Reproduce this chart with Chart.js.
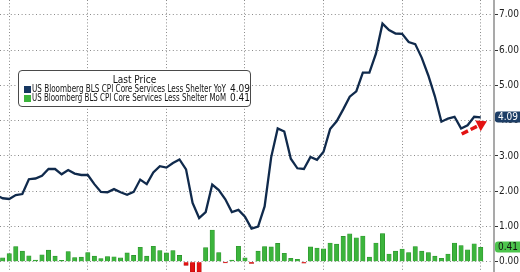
<!DOCTYPE html>
<html>
<head>
<meta charset="utf-8">
<script src="https://cdn.jsdelivr.net/npm/chart.js@4.4.1/dist/chart.umd.min.js"></script>
<style>
  body { margin: 0; background: #fff; }
  #wrap { position: relative; width: 520px; height: 272px; }
  #legend {
    position: absolute; left: 18px; top: 70px; width: 231px; height: 35px;
    border: 1px solid #4a4a4a; border-radius: 4px; background: #fff;
    font-family: 'DejaVu Sans Condensed', 'DejaVu Sans', sans-serif; font-size: 10px; color: #111;
  }
  #legend .title { position: absolute; top: 3px; left: 0; width: 100%; text-align: center; line-height: 11px; }
  #legend .row { position: absolute; left: 0; width: 100%; height: 10px; line-height: 10px; }
  #legend .sw { position: absolute; left: 5px; top: 2px; width: 7px; height: 7px; }
  #legend .name { position: absolute; left: 13px; top: 0; white-space: nowrap; transform-origin: left center; }
  #legend .val { position: absolute; left: 211px; top: 0; white-space: nowrap; }
</style>
</head>
<body>
<div id="wrap">
  <canvas id="c" width="520" height="272"></canvas>
  <div id="legend">
    <div class="title">Last Price</div>
    <div class="row" style="top:12.5px"><span class="sw" style="background:#163761"></span><span class="name">US Bloomberg BLS CPI Core Services Less Shelter YoY</span><span class="val">4.09</span></div>
    <div class="row" style="top:22px"><span class="sw" style="background:#3cb43c"></span><span class="name">US Bloomberg BLS CPI Core Services Less Shelter MoM</span><span class="val">0.41</span></div>
  </div>
</div>
<script>
// monthly series, first entry is the partial month cut at the left edge
const yoy = [1.88, 1.80, 1.78, 1.89, 1.92, 2.34, 2.36, 2.44, 2.63, 2.63, 2.48, 2.60, 2.50, 2.46,
  2.46, 2.20, 1.98, 1.97, 2.06, 1.97, 1.90, 1.98, 2.33, 2.20, 2.53, 2.71, 2.67, 2.80,
  2.90, 2.62, 1.67, 1.24, 1.41, 2.19, 2.03, 1.77, 1.41, 1.47, 1.28, 0.94, 1.00, 1.57,
  2.96, 3.78, 3.69, 2.92, 2.65, 2.63, 2.97, 2.89, 3.12, 3.76, 3.98, 4.32, 4.68, 4.83,
  5.36, 5.36, 5.90, 6.75, 6.57, 6.47, 6.46, 6.23, 6.17, 5.78, 5.28, 4.69, 3.97, 4.06,
  4.11, 3.78, 3.87, 4.11, 4.09];
const mom = [null, 0.11, 0.23, 0.43, 0.30, 0.17, 0.05, 0.20, 0.33, 0.16, 0.04, 0.29, 0.12, 0.13,
  0.26, 0.16, 0.09, 0.15, 0.14, 0.11, 0.25, 0.18, 0.41, 0.16, 0.44, 0.32, 0.25, 0.32,
  0.18, -0.10, -0.29, -0.29, 0.40, 0.90, 0.26, -0.03, 0.05, 0.44, 0.11, -0.05, 0.30, 0.43,
  0.42, 0.52, 0.24, 0.10, 0.07, -0.04, 0.42, 0.39, 0.37, 0.53, 0.50, 0.72, 0.79, 0.68,
  0.73, 0.13, 0.53, 0.80, 0.22, 0.30, 0.36, 0.26, 0.43, 0.30, 0.26, 0.16, 0.10, 0.22,
  0.53, 0.46, 0.34, 0.51, 0.41];
const yTicks = [0, 1, 2, 3, 4, 5, 6, 7];
const yearGrid = [1, 13, 25, 37, 49, 61, 73]; // january of each year
const lastYoY = 4.09;
const lastMoM = 0.41;

const NAVY = '#102a4c';
const GREEN = '#3cb43c';
const RED = '#e31212';

// shrink legend text to the width it has in the picture
document.querySelectorAll('#legend .name').forEach(el => {
  const w = el.getBoundingClientRect().width;
  el.style.transform = `scaleX(${194 / w})`;
});

const tagsAndArrow = {
  id: 'tagsAndArrow',
  afterDraw(chart) {
    const ctx = chart.ctx;
    const xs = chart.scales.x;
    const ys = chart.scales.y;
    const left = chart.chartArea.right + 1;

    function tag(value, bg, fg) {
      const y = Math.round(ys.getPixelForValue(value));
      ctx.save();
      ctx.fillStyle = bg;
      ctx.beginPath();
      ctx.roundRect(left, y - 5.5, 520 - left + 3, 11, 3);
      ctx.fill();
      ctx.fillStyle = fg;
      ctx.font = '10px "DejaVu Sans Condensed", sans-serif';
      ctx.textBaseline = 'middle';
      ctx.fillText(value.toFixed(2), left + 3, y + 0.5);
      ctx.restore();
    }
    tag(lastYoY, '#1d3e66', '#fff');
    tag(lastMoM, '#4cc44c', '#111');

    // red dashed arrow pointing at the last reading
    const x0 = xs.getPixelForValue(70.1), y0 = ys.getPixelForValue(3.62);
    const x1 = xs.getPixelForValue(73.95), y1 = ys.getPixelForValue(3.98);
    const ang = Math.atan2(y1 - y0, x1 - x0);
    const head = 10;
    const bx = x1 - head * Math.cos(ang), by = y1 - head * Math.sin(ang);
    ctx.save();
    ctx.strokeStyle = RED;
    ctx.fillStyle = RED;
    ctx.lineWidth = 3.5;
    ctx.setLineDash([7, 3]);
    ctx.beginPath();
    ctx.moveTo(x0, y0);
    ctx.lineTo(bx, by);
    ctx.stroke();
    ctx.setLineDash([]);
    ctx.beginPath();
    ctx.moveTo(x1, y1);
    ctx.lineTo(bx + 6 * Math.sin(ang), by - 6 * Math.cos(ang));
    ctx.lineTo(bx - 6 * Math.sin(ang), by + 6 * Math.cos(ang));
    ctx.closePath();
    ctx.fill();
    ctx.restore();
  }
};

const chart = new Chart(document.getElementById('c'), {
  data: {
    datasets: [{
      type: 'line',
      label: 'US Bloomberg BLS CPI Core Services Less Shelter YoY',
      data: yoy.map((v, i) => ({ x: i - 1, y: v })),
      borderColor: NAVY,
      borderWidth: 2.3,
      pointRadius: 0,
      tension: 0,
      order: 0
    }, {
      type: 'bar',
      label: 'US Bloomberg BLS CPI Core Services Less Shelter MoM',
      data: mom.map((v, i) => ({ x: i - 1, y: v })),
      backgroundColor: ctx => (ctx.raw && ctx.raw.y < 0 ? RED : GREEN),
      borderColor: ctx => (ctx.raw && ctx.raw.y < 0 ? '#b00000' : '#2a8f2a'),
      borderWidth: 0.6,
      barThickness: 4.4,
      order: 1
    }]
  },
  options: {
    responsive: false,
    animation: false,
    devicePixelRatio: 1,
    layout: { padding: 0 },
    plugins: { legend: { display: false }, tooltip: { enabled: false } },
    scales: {
      x: {
        type: 'linear',
        offset: false,
        min: -0.41,
        max: 75.03,
        afterBuildTicks: s => { s.ticks = yearGrid.map(v => ({ value: v })); },
        afterFit: s => { s.height = 0; },
        ticks: { display: false },
        grid: { color: '#8a8a8a', lineWidth: 1, drawTicks: false, offset: false },
        border: { display: false, dash: [1, 2.2] }
      },
      y: {
        position: 'right',
        min: -0.29,
        max: 7.42,
        afterBuildTicks: s => { s.ticks = yTicks.map(v => ({ value: v })); },
        afterFit: s => { s.width = 26; s.paddingTop = 0; s.paddingBottom = 0; },
        ticks: {
          padding: 1,
          color: '#222',
          font: { family: 'DejaVu Sans Condensed', size: 10 },
          callback: v => v.toFixed(2)
        },
        grid: { color: '#8a8a8a', lineWidth: 1, tickLength: 4, tickColor: '#333', tickWidth: 1 },
        border: { display: true, color: '#a9a9a9', width: 2, dash: [1, 2.6] }
      }
    }
  },
  plugins: [tagsAndArrow]
});
</script>
</body>
</html>
